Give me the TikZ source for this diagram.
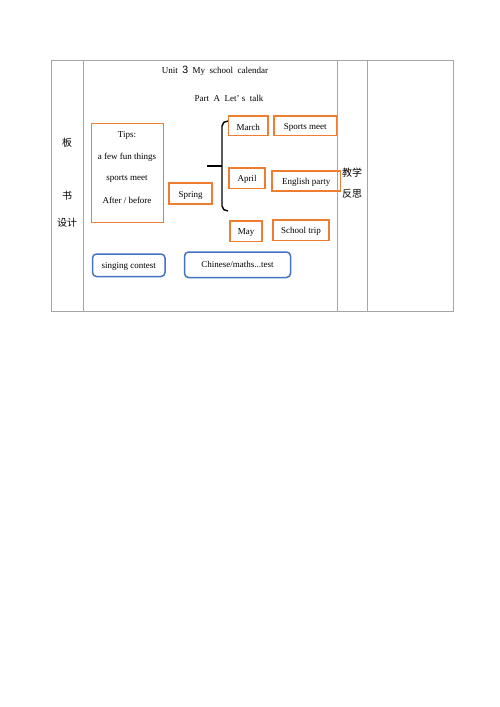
\documentclass[tikz,border=0pt]{standalone}
\usepackage{fontspec}
\setmainfont{Liberation Serif}
\newfontfamily\cjk{Noto Sans CJK SC}
\newfontfamily\numfont{Liberation Sans}
\begin{document}
\begin{tikzpicture}[x=1pt,y=-1pt,
  every node/.style={font=\fontsize{9}{11}\selectfont, inner sep=0pt},
  lbl/.style={midway, yshift=-1.5pt},
  obox/.style={draw=orgc, line width=1.7pt},
  bbox/.style={draw=bluec, line width=1.5pt, rounded corners=4pt},
  grid/.style={draw=gray!70, line width=0.8pt},
  cj/.style={font=\cjk\fontsize{10}{12}\selectfont}]
\definecolor{orgc}{RGB}{237,125,49}
\definecolor{bluec}{RGB}{68,114,196}
\useasboundingbox (0,0) rectangle (500,707);
\fill[white] (0,0) rectangle (500,707);
% table
\draw[grid] (51,60) rectangle (453,311);
\draw[grid] (83,60) -- (83,311);
\draw[grid] (337,60) -- (337,311);
\draw[grid] (367,60) -- (367,311);
% left column labels
\node[cj] (ban) at (67,143) {板};
\node[cj] (shu) at (67,196) {书};
\node[cj] (sheji) at (67,223) {设计};
\node[cj] (jiaoxue) at (352,173) {教学};
\node[cj] (fansi) at (352,194) {反思};
% titles
\node (title) at (215,71) {Unit\ \ {\numfont\fontsize{10.5}{12}\selectfont 3}\ \ My\ \ school\ \ calendar};
\node (part) at (229,98) {Part\ \ A\ \ Let’\ s\ \ talk};
% tips box
\draw[obox] (91.5,123.5) rectangle (163.5,222.5);
\node (tips) at (127,135) {Tips:};
\node (fun) at (127,157) {a few fun things};
\node (sm) at (127,179) {sports meet};
\node (ab) at (127,200) {After / before};
% spring
\draw[obox] (169,183) rectangle (212,204) node[lbl] (spring) {Spring};
% brace
\coordinate (st) at (207,166);
\coordinate (sm2) at (222,166);
\draw[line width=1.4pt] (st) -- (sm2);
\draw[line width=1.4pt] (228,121) to[out=180,in=90] (222,126) -- (222,206) to[out=-90,in=180] (228,211);
% months
\draw[obox] (228.5,116) rectangle (268,135.5) node[lbl] (march) {March};
\draw[obox] (274,116) rectangle (336.5,135.5) node[lbl] (sports) {Sports meet};
\draw[obox] (229,168) rectangle (265,188.5) node[lbl] (april) {April};
\draw[obox] (272,171) rectangle (340.5,191) node[lbl] (english) {English party};
\draw[obox] (230,221) rectangle (262,241.5) node[lbl] (may) {May};
\draw[obox] (273,220) rectangle (329,240.5) node[lbl] (trip) {School trip};
% blue boxes
\draw[bbox] (92.5,254) rectangle (165,276.5) node[lbl] (sing) {singing contest};
\draw[bbox] (184.5,252) rectangle (290.5,277.5);
\node (chin) at (237.5,264) {Chinese/maths...test};
\end{tikzpicture}
\end{document}
